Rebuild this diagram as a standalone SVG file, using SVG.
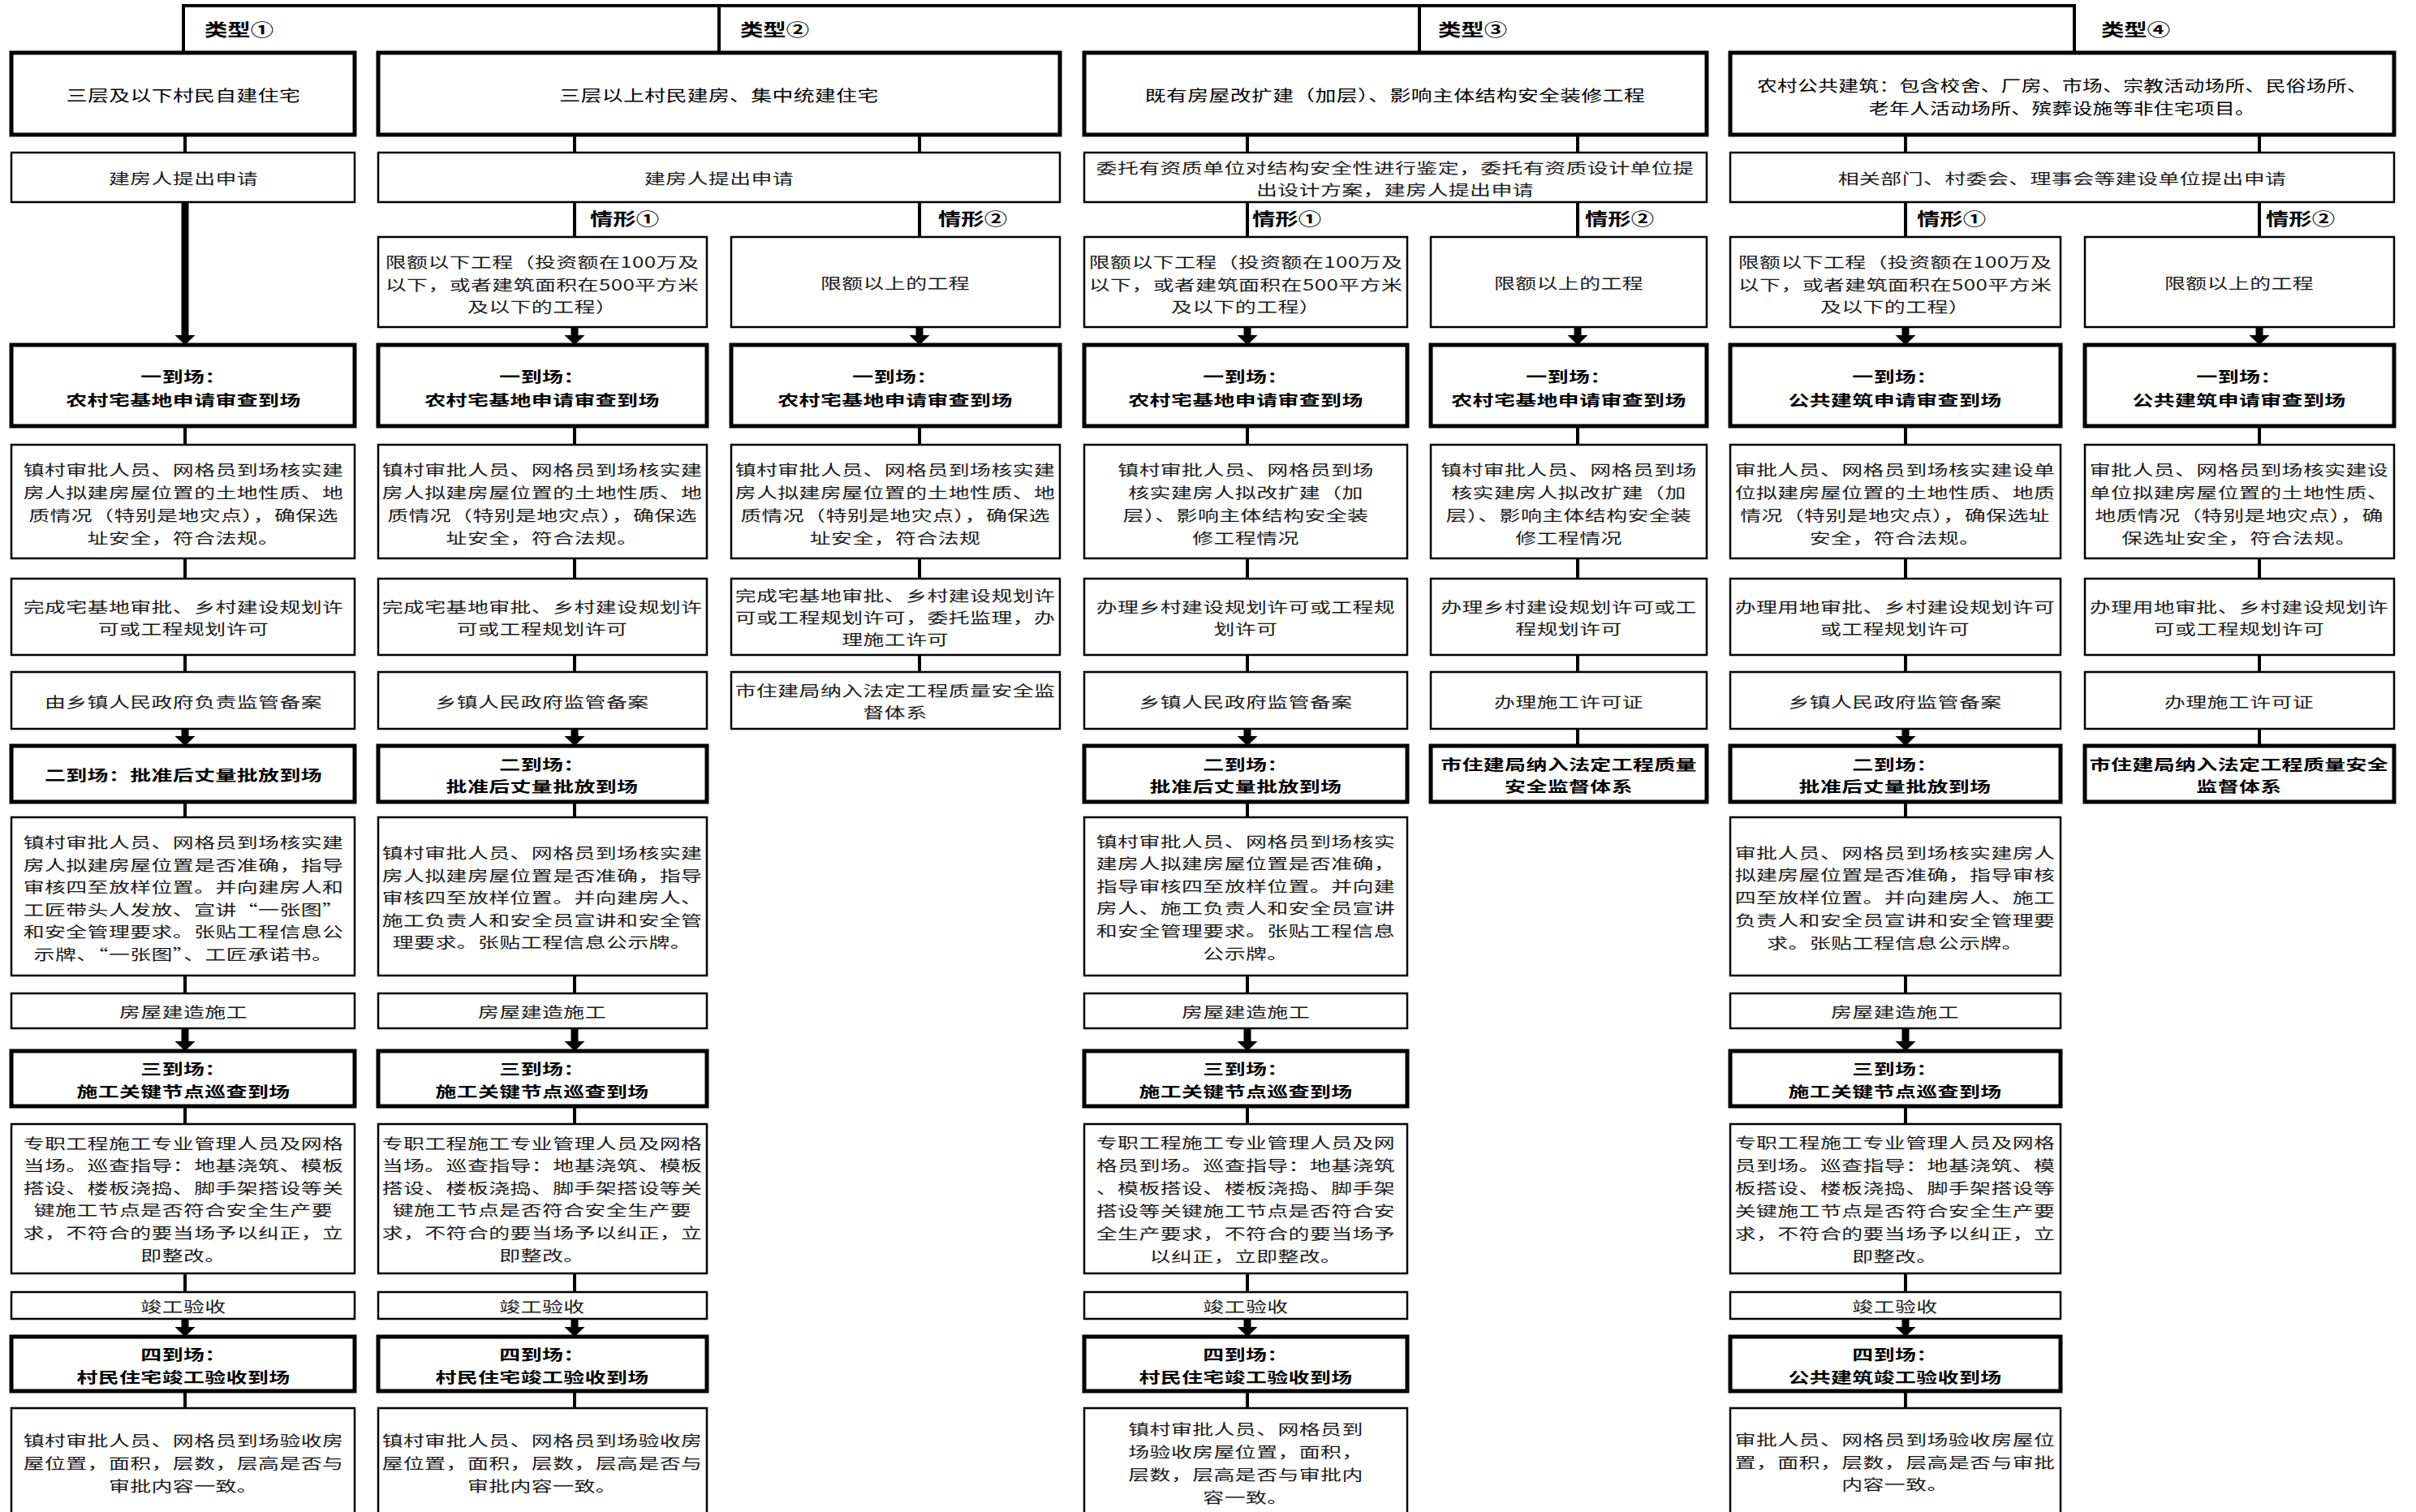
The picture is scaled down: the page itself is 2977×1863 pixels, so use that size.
<svg xmlns="http://www.w3.org/2000/svg" xmlns:xlink="http://www.w3.org/1999/xlink" width="2977" height="1863" viewBox="0 0 2977 1863">
<style>
.box{fill:#fff;stroke:#000;stroke-width:2.5}
.tbox{fill:#fff;stroke:#000;stroke-width:5}
.t{font-family:"Noto Sans CJK SC","Liberation Sans",sans-serif;font-size:18.5px;letter-spacing:0.3px;text-anchor:middle;dominant-baseline:central;fill:#1a1a1a}
.h{font-family:"Noto Sans CJK SC","Liberation Sans",sans-serif;font-size:19px;letter-spacing:0.3px;text-anchor:middle;dominant-baseline:central;fill:#000}
.b{font-family:"Noto Sans CJK SC","Liberation Sans",sans-serif;font-size:18.5px;font-weight:700;letter-spacing:0.3px;text-anchor:middle;dominant-baseline:central;fill:#000}
.lbl{font-family:"Noto Sans CJK SC","Liberation Sans",sans-serif;font-size:21px;font-weight:700;dominant-baseline:central;fill:#000}
.ln{stroke:#000;stroke-width:4;fill:none}
.ta{stroke:#000;stroke-width:9;fill:none}
</style>
<defs>
<path id="ah" d="M-12.5,-12 L12.5,-12 L0,0 Z" fill="#000"/>
</defs>

<g id="connectors">
<path class="ln" d="M226,65 V7 H2556 V65"/>
<path class="ln" d="M886,7 V65 M1749,7 V65"/>
<path class="ln" d="M228,166 V188 M708,166 V188 M1133,166 V188 M1537,166 V188 M1944,166 V188 M2348,166 V188 M2784,166 V188"/>
<path class="ln" d="M708,249 V292 M1133,249 V292 M1537,249 V292 M1944,249 V292 M2348,249 V292 M2784,249 V292"/>
<path class="ta" d="M228,249 V414 M708,403 V414 M1133,403 V414 M1537,403 V414 M1944,403 V414 M2348,403 V414 M2784,403 V414"/>
<use xlink:href="#ah" x="228" y="425"/><use xlink:href="#ah" x="708" y="425"/><use xlink:href="#ah" x="1133" y="425"/><use xlink:href="#ah" x="1537" y="425"/><use xlink:href="#ah" x="1944" y="425"/><use xlink:href="#ah" x="2348" y="425"/><use xlink:href="#ah" x="2784" y="425"/>
<path class="ln" d="M228,525 V548 M708,525 V548 M1133,525 V548 M1537,525 V548 M1944,525 V548 M2348,525 V548 M2784,525 V548"/>
<path class="ln" d="M228,688 V713 M708,688 V713 M1133,688 V713 M1537,688 V713 M1944,688 V713 M2348,688 V713 M2784,688 V713"/>
<path class="ln" d="M228,807 V828 M708,807 V828 M1133,807 V828 M1537,807 V828 M1944,807 V828 M2348,807 V828 M2784,807 V828"/>
<path class="ta" d="M228,898 V908 M708,898 V908 M1537,898 V908 M2348,898 V908"/>
<use xlink:href="#ah" x="228" y="919"/><use xlink:href="#ah" x="708" y="919"/><use xlink:href="#ah" x="1537" y="919"/><use xlink:href="#ah" x="2348" y="919"/>
<path class="ln" d="M1944,898 V919 M2784,898 V919"/>
<path class="ln" d="M228,988 V1007 M708,988 V1007 M1537,988 V1007 M2348,988 V1007"/>
<path class="ln" d="M228,1202 V1224 M708,1202 V1224 M1537,1202 V1224 M2348,1202 V1224"/>
<path class="ta" d="M228,1267 V1284 M708,1267 V1284 M1537,1267 V1284 M2348,1267 V1284"/>
<use xlink:href="#ah" x="228" y="1295"/><use xlink:href="#ah" x="708" y="1295"/><use xlink:href="#ah" x="1537" y="1295"/><use xlink:href="#ah" x="2348" y="1295"/>
<path class="ln" d="M228,1363 V1385 M708,1363 V1385 M1537,1363 V1385 M2348,1363 V1385"/>
<path class="ln" d="M228,1569 V1592 M708,1569 V1592 M1537,1569 V1592 M2348,1569 V1592"/>
<path class="ta" d="M228,1625 V1636 M708,1625 V1636 M1537,1625 V1636 M2348,1625 V1636"/>
<use xlink:href="#ah" x="228" y="1647"/><use xlink:href="#ah" x="708" y="1647"/><use xlink:href="#ah" x="1537" y="1647"/><use xlink:href="#ah" x="2348" y="1647"/>
<path class="ln" d="M228,1714 V1735 M708,1714 V1735 M1537,1714 V1735 M2348,1714 V1735"/>
<text class="lbl" transform="translate(252 0) scale(1.35 1)" x="0" y="35">类型①</text>
<text class="lbl" transform="translate(912 0) scale(1.35 1)" x="0" y="35">类型②</text>
<text class="lbl" transform="translate(1772 0) scale(1.35 1)" x="0" y="35">类型③</text>
<text class="lbl" transform="translate(2589 0) scale(1.35 1)" x="0" y="35">类型④</text>
<text class="lbl" transform="translate(727 0) scale(1.35 1)" x="0" y="268">情形①</text>
<text class="lbl" transform="translate(1156 0) scale(1.35 1)" x="0" y="268">情形②</text>
<text class="lbl" transform="translate(1543 0) scale(1.35 1)" x="0" y="268">情形①</text>
<text class="lbl" transform="translate(1953 0) scale(1.35 1)" x="0" y="268">情形②</text>
<text class="lbl" transform="translate(2362 0) scale(1.35 1)" x="0" y="268">情形①</text>
<text class="lbl" transform="translate(2792 0) scale(1.35 1)" x="0" y="268">情形②</text>
</g>

<g id="h1"><rect class="tbox" x="14" y="65" width="423" height="101"/><text class="h" transform="translate(226 0) scale(1.36 1)" x="0" y="117">三层及以下村民自建住宅</text></g>
<g id="h2"><rect class="tbox" x="466" y="65" width="840" height="101"/><text class="h" transform="translate(886 0) scale(1.36 1)" x="0" y="117">三层以上村民建房、集中统建住宅</text></g>
<g id="h3"><rect class="tbox" x="1336" y="65" width="767" height="101"/><text class="h" transform="translate(1719 0) scale(1.36 1)" x="0" y="117">既有房屋改扩建（加层）、影响主体结构安全装修工程</text></g>
<g id="h4"><rect class="tbox" x="2132" y="65" width="818" height="101"/><text class="h" transform="translate(2541 0) scale(1.3 1)"><tspan x="0" y="104">农村公共建筑：包含校舍、厂房、市场、宗教活动场所、民俗场所、</tspan><tspan x="0" y="132">老年人活动场所、殡葬设施等非住宅项目。</tspan></text></g>

<g id="a1"><rect class="box" x="14" y="188" width="423" height="61"/><text class="t" transform="translate(226 0) scale(1.4 1)" x="0" y="219">建房人提出申请</text></g>
<g id="a2"><rect class="box" x="466" y="188" width="840" height="61"/><text class="t" transform="translate(886 0) scale(1.4 1)" x="0" y="219">建房人提出申请</text></g>
<g id="a3"><rect class="box" x="1336" y="188" width="767" height="61"/><text class="t" transform="translate(1719 0) scale(1.4 1)"><tspan x="0" y="206">委托有资质单位对结构安全性进行鉴定，委托有资质设计单位提</tspan><tspan x="0" y="233">出设计方案，建房人提出申请</tspan></text></g>
<g id="a4"><rect class="box" x="2132" y="188" width="818" height="61"/><text class="t" transform="translate(2541 0) scale(1.4 1)" x="0" y="219">相关部门、村委会、理事会等建设单位提出申请</text></g>

<g id="c2a"><rect class="box" x="466" y="292" width="405" height="111"/><text class="t" transform="translate(668 0) scale(1.4 1)"><tspan x="0" y="322">限额以下工程（投资额在100万及</tspan><tspan x="0" y="350">以下，或者建筑面积在500平方米</tspan><tspan x="0" y="377">及以下的工程）</tspan></text></g>
<g id="c2b"><rect class="box" x="901" y="292" width="405" height="111"/><text class="t" transform="translate(1103 0) scale(1.4 1)" x="0" y="348">限额以上的工程</text></g>
<g id="c3a"><rect class="box" x="1336" y="292" width="398" height="111"/><text class="t" transform="translate(1535 0) scale(1.4 1)"><tspan x="0" y="322">限额以下工程（投资额在100万及</tspan><tspan x="0" y="350">以下，或者建筑面积在500平方米</tspan><tspan x="0" y="377">及以下的工程）</tspan></text></g>
<g id="c3b"><rect class="box" x="1763" y="292" width="340" height="111"/><text class="t" transform="translate(1933 0) scale(1.4 1)" x="0" y="348">限额以上的工程</text></g>
<g id="c4a"><rect class="box" x="2132" y="292" width="407" height="111"/><text class="t" transform="translate(2335 0) scale(1.4 1)"><tspan x="0" y="322">限额以下工程（投资额在100万及</tspan><tspan x="0" y="350">以下，或者建筑面积在500平方米</tspan><tspan x="0" y="377">及以下的工程）</tspan></text></g>
<g id="c4b"><rect class="box" x="2569" y="292" width="381" height="111"/><text class="t" transform="translate(2759 0) scale(1.4 1)" x="0" y="348">限额以上的工程</text></g>

<g id="r1-1"><rect class="tbox" x="14" y="425" width="423" height="100"/><text class="b" transform="translate(226 0) scale(1.4 1)"><tspan x="0" y="463">一到场：</tspan><tspan x="0" y="492">农村宅基地申请审查到场</tspan></text></g>
<g id="r1-2a"><rect class="tbox" x="466" y="425" width="405" height="100"/><text class="b" transform="translate(668 0) scale(1.4 1)"><tspan x="0" y="463">一到场：</tspan><tspan x="0" y="492">农村宅基地申请审查到场</tspan></text></g>
<g id="r1-2b"><rect class="tbox" x="901" y="425" width="405" height="100"/><text class="b" transform="translate(1103 0) scale(1.4 1)"><tspan x="0" y="463">一到场：</tspan><tspan x="0" y="492">农村宅基地申请审查到场</tspan></text></g>
<g id="r1-3a"><rect class="tbox" x="1336" y="425" width="398" height="100"/><text class="b" transform="translate(1535 0) scale(1.4 1)"><tspan x="0" y="463">一到场：</tspan><tspan x="0" y="492">农村宅基地申请审查到场</tspan></text></g>
<g id="r1-3b"><rect class="tbox" x="1763" y="425" width="340" height="100"/><text class="b" transform="translate(1933 0) scale(1.4 1)"><tspan x="0" y="463">一到场：</tspan><tspan x="0" y="492">农村宅基地申请审查到场</tspan></text></g>
<g id="r1-4a"><rect class="tbox" x="2132" y="425" width="407" height="100"/><text class="b" transform="translate(2335 0) scale(1.4 1)"><tspan x="0" y="463">一到场：</tspan><tspan x="0" y="492">公共建筑申请审查到场</tspan></text></g>
<g id="r1-4b"><rect class="tbox" x="2569" y="425" width="381" height="100"/><text class="b" transform="translate(2759 0) scale(1.4 1)"><tspan x="0" y="463">一到场：</tspan><tspan x="0" y="492">公共建筑申请审查到场</tspan></text></g>

<g id="r2-1"><rect class="box" x="14" y="548" width="423" height="140"/><text class="t" transform="translate(226 0) scale(1.4 1)"><tspan x="0" y="578">镇村审批人员、网格员到场核实建</tspan><tspan x="0" y="606">房人拟建房屋位置的土地性质、地</tspan><tspan x="0" y="634">质情况（特别是地灾点），确保选</tspan><tspan x="0" y="662">址安全，符合法规。</tspan></text></g>
<g id="r2-2a"><rect class="box" x="466" y="548" width="405" height="140"/><text class="t" transform="translate(668 0) scale(1.4 1)"><tspan x="0" y="578">镇村审批人员、网格员到场核实建</tspan><tspan x="0" y="606">房人拟建房屋位置的土地性质、地</tspan><tspan x="0" y="634">质情况（特别是地灾点），确保选</tspan><tspan x="0" y="662">址安全，符合法规。</tspan></text></g>
<g id="r2-2b"><rect class="box" x="901" y="548" width="405" height="140"/><text class="t" transform="translate(1103 0) scale(1.4 1)"><tspan x="0" y="578">镇村审批人员、网格员到场核实建</tspan><tspan x="0" y="606">房人拟建房屋位置的土地性质、地</tspan><tspan x="0" y="634">质情况（特别是地灾点），确保选</tspan><tspan x="0" y="662">址安全，符合法规</tspan></text></g>
<g id="r2-3a"><rect class="box" x="1336" y="548" width="398" height="140"/><text class="t" transform="translate(1535 0) scale(1.4 1)"><tspan x="0" y="578">镇村审批人员、网格员到场</tspan><tspan x="0" y="606">核实建房人拟改扩建（加</tspan><tspan x="0" y="634">层）、影响主体结构安全装</tspan><tspan x="0" y="662">修工程情况</tspan></text></g>
<g id="r2-3b"><rect class="box" x="1763" y="548" width="340" height="140"/><text class="t" transform="translate(1933 0) scale(1.4 1)"><tspan x="0" y="578">镇村审批人员、网格员到场</tspan><tspan x="0" y="606">核实建房人拟改扩建（加</tspan><tspan x="0" y="634">层）、影响主体结构安全装</tspan><tspan x="0" y="662">修工程情况</tspan></text></g>
<g id="r2-4a"><rect class="box" x="2132" y="548" width="407" height="140"/><text class="t" transform="translate(2335 0) scale(1.4 1)"><tspan x="0" y="578">审批人员、网格员到场核实建设单</tspan><tspan x="0" y="606">位拟建房屋位置的土地性质、地质</tspan><tspan x="0" y="634">情况（特别是地灾点），确保选址</tspan><tspan x="0" y="662">安全，符合法规。</tspan></text></g>
<g id="r2-4b"><rect class="box" x="2569" y="548" width="381" height="140"/><text class="t" transform="translate(2759 0) scale(1.4 1)"><tspan x="0" y="578">审批人员、网格员到场核实建设</tspan><tspan x="0" y="606">单位拟建房屋位置的土地性质、</tspan><tspan x="0" y="634">地质情况（特别是地灾点），确</tspan><tspan x="0" y="662">保选址安全，符合法规。</tspan></text></g>

<g id="r3-1"><rect class="box" x="14" y="713" width="423" height="94"/><text class="t" transform="translate(226 0) scale(1.4 1)"><tspan x="0" y="747">完成宅基地审批、乡村建设规划许</tspan><tspan x="0" y="774">可或工程规划许可</tspan></text></g>
<g id="r3-2a"><rect class="box" x="466" y="713" width="405" height="94"/><text class="t" transform="translate(668 0) scale(1.4 1)"><tspan x="0" y="747">完成宅基地审批、乡村建设规划许</tspan><tspan x="0" y="774">可或工程规划许可</tspan></text></g>
<g id="r3-2b"><rect class="box" x="901" y="713" width="405" height="94"/><text class="t" transform="translate(1103 0) scale(1.4 1)"><tspan x="0" y="733">完成宅基地审批、乡村建设规划许</tspan><tspan x="0" y="760">可或工程规划许可，委托监理，办</tspan><tspan x="0" y="787">理施工许可</tspan></text></g>
<g id="r3-3a"><rect class="box" x="1336" y="713" width="398" height="94"/><text class="t" transform="translate(1535 0) scale(1.4 1)"><tspan x="0" y="747">办理乡村建设规划许可或工程规</tspan><tspan x="0" y="774">划许可</tspan></text></g>
<g id="r3-3b"><rect class="box" x="1763" y="713" width="340" height="94"/><text class="t" transform="translate(1933 0) scale(1.4 1)"><tspan x="0" y="747">办理乡村建设规划许可或工</tspan><tspan x="0" y="774">程规划许可</tspan></text></g>
<g id="r3-4a"><rect class="box" x="2132" y="713" width="407" height="94"/><text class="t" transform="translate(2335 0) scale(1.4 1)"><tspan x="0" y="747">办理用地审批、乡村建设规划许可</tspan><tspan x="0" y="774">或工程规划许可</tspan></text></g>
<g id="r3-4b"><rect class="box" x="2569" y="713" width="381" height="94"/><text class="t" transform="translate(2759 0) scale(1.4 1)"><tspan x="0" y="747">办理用地审批、乡村建设规划许</tspan><tspan x="0" y="774">可或工程规划许可</tspan></text></g>

<g id="r4-1"><rect class="box" x="14" y="828" width="423" height="70"/><text class="t" transform="translate(226 0) scale(1.4 1)" x="0" y="864">由乡镇人民政府负责监管备案</text></g>
<g id="r4-2a"><rect class="box" x="466" y="828" width="405" height="70"/><text class="t" transform="translate(668 0) scale(1.4 1)" x="0" y="864">乡镇人民政府监管备案</text></g>
<g id="r4-2b"><rect class="box" x="901" y="828" width="405" height="70"/><text class="t" transform="translate(1103 0) scale(1.4 1)"><tspan x="0" y="850">市住建局纳入法定工程质量安全监</tspan><tspan x="0" y="877">督体系</tspan></text></g>
<g id="r4-3a"><rect class="box" x="1336" y="828" width="398" height="70"/><text class="t" transform="translate(1535 0) scale(1.4 1)" x="0" y="864">乡镇人民政府监管备案</text></g>
<g id="r4-3b"><rect class="box" x="1763" y="828" width="340" height="70"/><text class="t" transform="translate(1933 0) scale(1.4 1)" x="0" y="864">办理施工许可证</text></g>
<g id="r4-4a"><rect class="box" x="2132" y="828" width="407" height="70"/><text class="t" transform="translate(2335 0) scale(1.4 1)" x="0" y="864">乡镇人民政府监管备案</text></g>
<g id="r4-4b"><rect class="box" x="2569" y="828" width="381" height="70"/><text class="t" transform="translate(2759 0) scale(1.4 1)" x="0" y="864">办理施工许可证</text></g>

<g id="r5-1"><rect class="tbox" x="14" y="919" width="423" height="69"/><text class="b" transform="translate(226 0) scale(1.4 1)" x="0" y="954">二到场：批准后丈量批放到场</text></g>
<g id="r5-2a"><rect class="tbox" x="466" y="919" width="405" height="69"/><text class="b" transform="translate(668 0) scale(1.4 1)"><tspan x="0" y="941">二到场：</tspan><tspan x="0" y="968">批准后丈量批放到场</tspan></text></g>
<g id="r5-3a"><rect class="tbox" x="1336" y="919" width="398" height="69"/><text class="b" transform="translate(1535 0) scale(1.4 1)"><tspan x="0" y="941">二到场：</tspan><tspan x="0" y="968">批准后丈量批放到场</tspan></text></g>
<g id="r5-3b"><rect class="tbox" x="1763" y="919" width="340" height="69"/><text class="b" transform="translate(1933 0) scale(1.4 1)"><tspan x="0" y="941">市住建局纳入法定工程质量</tspan><tspan x="0" y="968">安全监督体系</tspan></text></g>
<g id="r5-4a"><rect class="tbox" x="2132" y="919" width="407" height="69"/><text class="b" transform="translate(2335 0) scale(1.4 1)"><tspan x="0" y="941">二到场：</tspan><tspan x="0" y="968">批准后丈量批放到场</tspan></text></g>
<g id="r5-4b"><rect class="tbox" x="2569" y="919" width="381" height="69"/><text class="b" transform="translate(2759 0) scale(1.4 1)"><tspan x="0" y="941">市住建局纳入法定工程质量安全</tspan><tspan x="0" y="968">监督体系</tspan></text></g>

<g id="r6-1"><rect class="box" x="14" y="1007" width="423" height="195"/><text class="t" transform="translate(226 0) scale(1.4 1)"><tspan x="0" y="1037">镇村审批人员、网格员到场核实建</tspan><tspan x="0" y="1065">房人拟建房屋位置是否准确，指导</tspan><tspan x="0" y="1092">审核四至放样位置。并向建房人和</tspan><tspan x="0" y="1120">工匠带头人发放、宣讲“一张图”</tspan><tspan x="0" y="1147">和安全管理要求。张贴工程信息公</tspan><tspan x="0" y="1175">示牌、“一张图”、工匠承诺书。</tspan></text></g>
<g id="r6-2a"><rect class="box" x="466" y="1007" width="405" height="195"/><text class="t" transform="translate(668 0) scale(1.4 1)"><tspan x="0" y="1050">镇村审批人员、网格员到场核实建</tspan><tspan x="0" y="1078">房人拟建房屋位置是否准确，指导</tspan><tspan x="0" y="1105">审核四至放样位置。并向建房人、</tspan><tspan x="0" y="1133">施工负责人和安全员宣讲和安全管</tspan><tspan x="0" y="1160">理要求。张贴工程信息公示牌。</tspan></text></g>
<g id="r6-3a"><rect class="box" x="1336" y="1007" width="398" height="195"/><text class="t" transform="translate(1535 0) scale(1.4 1)"><tspan x="0" y="1036">镇村审批人员、网格员到场核实</tspan><tspan x="0" y="1063">建房人拟建房屋位置是否准确，</tspan><tspan x="0" y="1091">指导审核四至放样位置。并向建</tspan><tspan x="0" y="1118">房人、施工负责人和安全员宣讲</tspan><tspan x="0" y="1146">和安全管理要求。张贴工程信息</tspan><tspan x="0" y="1174">公示牌。</tspan></text></g>
<g id="r6-4a"><rect class="box" x="2132" y="1007" width="407" height="195"/><text class="t" transform="translate(2335 0) scale(1.4 1)"><tspan x="0" y="1050">审批人员、网格员到场核实建房人</tspan><tspan x="0" y="1077">拟建房屋位置是否准确，指导审核</tspan><tspan x="0" y="1105">四至放样位置。并向建房人、施工</tspan><tspan x="0" y="1133">负责人和安全员宣讲和安全管理要</tspan><tspan x="0" y="1161">求。张贴工程信息公示牌。</tspan></text></g>

<g id="r7-1"><rect class="box" x="14" y="1224" width="423" height="43"/><text class="t" transform="translate(226 0) scale(1.4 1)" x="0" y="1246">房屋建造施工</text></g>
<g id="r7-2a"><rect class="box" x="466" y="1224" width="405" height="43"/><text class="t" transform="translate(668 0) scale(1.4 1)" x="0" y="1246">房屋建造施工</text></g>
<g id="r7-3a"><rect class="box" x="1336" y="1224" width="398" height="43"/><text class="t" transform="translate(1535 0) scale(1.4 1)" x="0" y="1246">房屋建造施工</text></g>
<g id="r7-4a"><rect class="box" x="2132" y="1224" width="407" height="43"/><text class="t" transform="translate(2335 0) scale(1.4 1)" x="0" y="1246">房屋建造施工</text></g>

<g id="r8-1"><rect class="tbox" x="14" y="1295" width="423" height="68"/><text class="b" transform="translate(226 0) scale(1.4 1)"><tspan x="0" y="1316">三到场：</tspan><tspan x="0" y="1344">施工关键节点巡查到场</tspan></text></g>
<g id="r8-2a"><rect class="tbox" x="466" y="1295" width="405" height="68"/><text class="b" transform="translate(668 0) scale(1.4 1)"><tspan x="0" y="1316">三到场：</tspan><tspan x="0" y="1344">施工关键节点巡查到场</tspan></text></g>
<g id="r8-3a"><rect class="tbox" x="1336" y="1295" width="398" height="68"/><text class="b" transform="translate(1535 0) scale(1.4 1)"><tspan x="0" y="1316">三到场：</tspan><tspan x="0" y="1344">施工关键节点巡查到场</tspan></text></g>
<g id="r8-4a"><rect class="tbox" x="2132" y="1295" width="407" height="68"/><text class="b" transform="translate(2335 0) scale(1.4 1)"><tspan x="0" y="1316">三到场：</tspan><tspan x="0" y="1344">施工关键节点巡查到场</tspan></text></g>

<g id="r9-1"><rect class="box" x="14" y="1385" width="423" height="184"/><text class="t" transform="translate(226 0) scale(1.4 1)"><tspan x="0" y="1408">专职工程施工专业管理人员及网格</tspan><tspan x="0" y="1435">当场。巡查指导：地基浇筑、模板</tspan><tspan x="0" y="1463">搭设、楼板浇捣、脚手架搭设等关</tspan><tspan x="0" y="1490">键施工节点是否符合安全生产要</tspan><tspan x="0" y="1518">求，不符合的要当场予以纠正，立</tspan><tspan x="0" y="1546">即整改。</tspan></text></g>
<g id="r9-2a"><rect class="box" x="466" y="1385" width="405" height="184"/><text class="t" transform="translate(668 0) scale(1.4 1)"><tspan x="0" y="1408">专职工程施工专业管理人员及网格</tspan><tspan x="0" y="1435">当场。巡查指导：地基浇筑、模板</tspan><tspan x="0" y="1463">搭设、楼板浇捣、脚手架搭设等关</tspan><tspan x="0" y="1490">键施工节点是否符合安全生产要</tspan><tspan x="0" y="1518">求，不符合的要当场予以纠正，立</tspan><tspan x="0" y="1546">即整改。</tspan></text></g>
<g id="r9-3a"><rect class="box" x="1336" y="1385" width="398" height="184"/><text class="t" transform="translate(1535 0) scale(1.4 1)"><tspan x="0" y="1407">专职工程施工专业管理人员及网</tspan><tspan x="0" y="1435">格员到场。巡查指导：地基浇筑</tspan><tspan x="0" y="1463">、模板搭设、楼板浇捣、脚手架</tspan><tspan x="0" y="1491">搭设等关键施工节点是否符合安</tspan><tspan x="0" y="1519">全生产要求，不符合的要当场予</tspan><tspan x="0" y="1547">以纠正，立即整改。</tspan></text></g>
<g id="r9-4a"><rect class="box" x="2132" y="1385" width="407" height="184"/><text class="t" transform="translate(2335 0) scale(1.4 1)"><tspan x="0" y="1407">专职工程施工专业管理人员及网格</tspan><tspan x="0" y="1435">员到场。巡查指导：地基浇筑、模</tspan><tspan x="0" y="1463">板搭设、楼板浇捣、脚手架搭设等</tspan><tspan x="0" y="1491">关键施工节点是否符合安全生产要</tspan><tspan x="0" y="1519">求，不符合的要当场予以纠正，立</tspan><tspan x="0" y="1547">即整改。</tspan></text></g>

<g id="r10-1"><rect class="box" x="14" y="1592" width="423" height="33"/><text class="t" transform="translate(226 0) scale(1.4 1)" x="0" y="1609">竣工验收</text></g>
<g id="r10-2a"><rect class="box" x="466" y="1592" width="405" height="33"/><text class="t" transform="translate(668 0) scale(1.4 1)" x="0" y="1609">竣工验收</text></g>
<g id="r10-3a"><rect class="box" x="1336" y="1592" width="398" height="33"/><text class="t" transform="translate(1535 0) scale(1.4 1)" x="0" y="1609">竣工验收</text></g>
<g id="r10-4a"><rect class="box" x="2132" y="1592" width="407" height="33"/><text class="t" transform="translate(2335 0) scale(1.4 1)" x="0" y="1609">竣工验收</text></g>

<g id="r11-1"><rect class="tbox" x="14" y="1647" width="423" height="67"/><text class="b" transform="translate(226 0) scale(1.4 1)"><tspan x="0" y="1668">四到场：</tspan><tspan x="0" y="1696">村民住宅竣工验收到场</tspan></text></g>
<g id="r11-2a"><rect class="tbox" x="466" y="1647" width="405" height="67"/><text class="b" transform="translate(668 0) scale(1.4 1)"><tspan x="0" y="1668">四到场：</tspan><tspan x="0" y="1696">村民住宅竣工验收到场</tspan></text></g>
<g id="r11-3a"><rect class="tbox" x="1336" y="1647" width="398" height="67"/><text class="b" transform="translate(1535 0) scale(1.4 1)"><tspan x="0" y="1668">四到场：</tspan><tspan x="0" y="1696">村民住宅竣工验收到场</tspan></text></g>
<g id="r11-4a"><rect class="tbox" x="2132" y="1647" width="407" height="67"/><text class="b" transform="translate(2335 0) scale(1.4 1)"><tspan x="0" y="1668">四到场：</tspan><tspan x="0" y="1696">公共建筑竣工验收到场</tspan></text></g>

<g id="r12-1"><rect class="box" x="14" y="1735" width="423" height="170"/><text class="t" transform="translate(226 0) scale(1.4 1)"><tspan x="0" y="1774">镇村审批人员、网格员到场验收房</tspan><tspan x="0" y="1802">屋位置，面积，层数，层高是否与</tspan><tspan x="0" y="1830">审批内容一致。</tspan></text></g>
<g id="r12-2a"><rect class="box" x="466" y="1735" width="405" height="170"/><text class="t" transform="translate(668 0) scale(1.4 1)"><tspan x="0" y="1774">镇村审批人员、网格员到场验收房</tspan><tspan x="0" y="1802">屋位置，面积，层数，层高是否与</tspan><tspan x="0" y="1830">审批内容一致。</tspan></text></g>
<g id="r12-3a"><rect class="box" x="1336" y="1735" width="398" height="170"/><text class="t" transform="translate(1535 0) scale(1.4 1)"><tspan x="0" y="1760">镇村审批人员、网格员到</tspan><tspan x="0" y="1788">场验收房屋位置，面积，</tspan><tspan x="0" y="1816">层数，层高是否与审批内</tspan><tspan x="0" y="1844">容一致。</tspan></text></g>
<g id="r12-4a"><rect class="box" x="2132" y="1735" width="407" height="170"/><text class="t" transform="translate(2335 0) scale(1.4 1)"><tspan x="0" y="1773">审批人员、网格员到场验收房屋位</tspan><tspan x="0" y="1801">置，面积，层数，层高是否与审批</tspan><tspan x="0" y="1828">内容一致。</tspan></text></g>
</svg>
